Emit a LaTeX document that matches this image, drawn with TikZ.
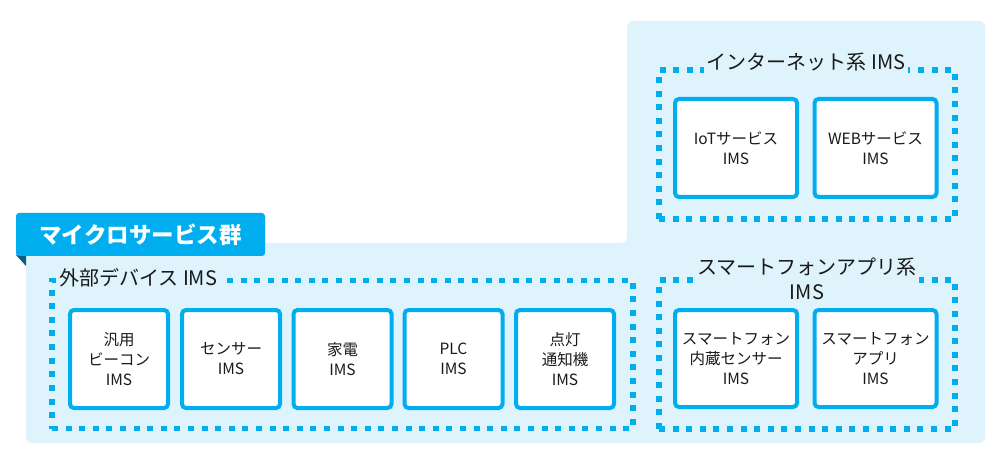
\documentclass[tikz,border=0pt]{standalone}
\usepackage{fontspec}
\setmainfont{Noto Sans CJK JP}
\definecolor{bgblue}{HTML}{DFF3FC}
\definecolor{cyanline}{HTML}{00AEEF}
\definecolor{tabcol}{HTML}{00AEEF}
\definecolor{folddark}{HTML}{0A5F80}
\definecolor{txt}{HTML}{1A1A1A}
\tikzset{
  frame/.style={draw=cyanline, line width=5.5pt, dash pattern=on 6pt off 7.6pt, line cap=butt, inner sep=0pt},
  imsbox/.style={draw=cyanline, fill=white, line width=4pt, rounded corners=4pt, align=center,
    font=\fontsize{15.5}{20}\selectfont, text=txt, inner sep=0pt},
  grouplabel/.style={fill=bgblue, inner sep=3pt, align=center, font=\fontsize{20}{25}\selectfont, text=txt},
}
\begin{document}
\begin{tikzpicture}[x=1pt,y=-1pt]
\useasboundingbox (0,0) rectangle (1001,462);
% background L-shape
\fill[bgblue, rounded corners=6pt] (627,21) -- (985,21) -- (985,443) -- (26,443) -- (26,243) -- (627,243) -- cycle;
% tab
\fill[folddark] (16,255) -- (26,255) -- (26,266) -- cycle;
\node[fill=tabcol, rounded corners=3pt, minimum width=249pt, minimum height=43pt, inner sep=0pt,
  text=white, font=\fontsize{22.5}{26}\selectfont\bfseries] (tab) at (140.5,234.5) {マイクロサービス群};
% frames
\node[frame, minimum width=296pt, minimum height=149pt] (fnet) at (807,144.5) {};
\node[frame, minimum width=296pt, minimum height=149pt] (fsp) at (807,354.5) {};
\node[frame, minimum width=581pt, minimum height=148pt] (fext) at (342.5,354.5) {};
% frame labels
\node[grouplabel] (lnet) at (806,62) {インターネット系 IMS};
\node[grouplabel, inner sep=2pt] (lsp) at (807,278.5) {スマートフォンアプリ系\\IMS};
\node[grouplabel, anchor=west] (lext) at (56,278) {外部デバイス IMS};
% boxes
\node[imsbox, minimum width=98pt, minimum height=98pt] (b1) at (119,359) {汎用\\ビーコン\\IMS};
\node[imsbox, minimum width=98pt, minimum height=98pt] (b2) at (231,359) {センサー\\IMS};
\node[imsbox, minimum width=98pt, minimum height=98pt] (b3) at (342.5,359) {家電\\IMS};
\node[imsbox, minimum width=98pt, minimum height=98pt] (b4) at (453.5,359) {PLC\\IMS};
\node[imsbox, minimum width=98pt, minimum height=98pt] (b5) at (565,359) {点灯\\通知機\\IMS};
\node[imsbox, minimum width=122pt, minimum height=98pt] (b6) at (736,148) {IoTサービス\\IMS};
\node[imsbox, minimum width=122pt, minimum height=98pt] (b7) at (875.5,148) {WEBサービス\\IMS};
\node[imsbox, minimum width=122pt, minimum height=97pt] (b8) at (736,358.5) {スマートフォン\\内蔵センサー\\IMS};
\node[imsbox, minimum width=122pt, minimum height=97pt] (b9) at (875.5,358.5) {スマートフォン\\アプリ\\IMS};
\end{tikzpicture}
\end{document}
